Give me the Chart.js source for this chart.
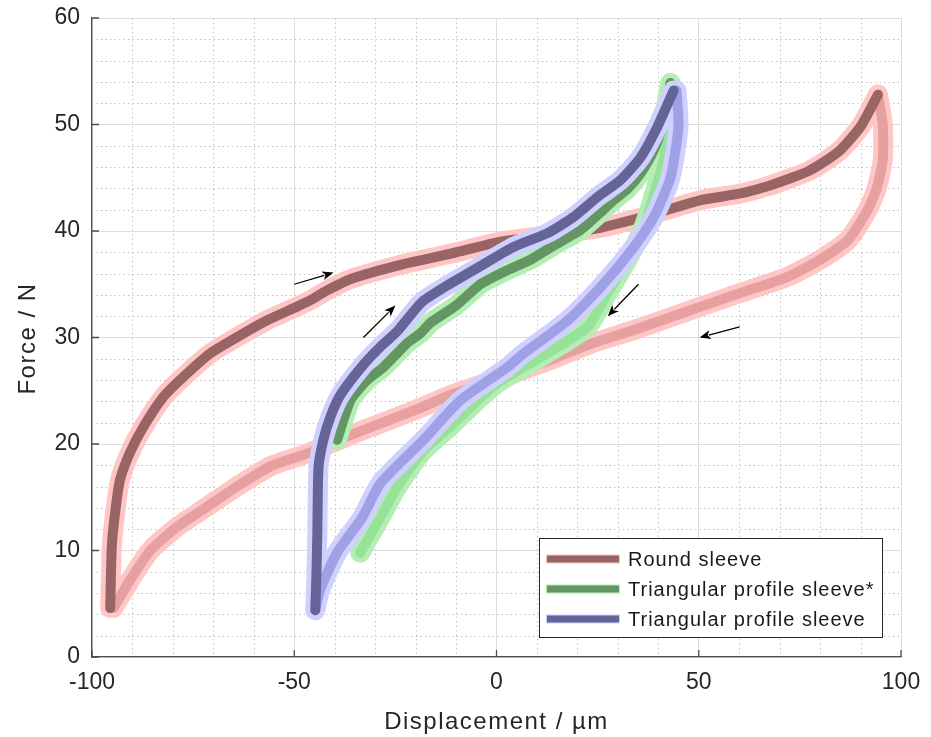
<!DOCTYPE html>
<html>
<head>
<meta charset="utf-8">
<title>Force vs displacement</title>
<script src="https://cdn.jsdelivr.net/npm/chart.js@4.4.1/dist/chart.umd.min.js"></script>
<style>
  html, body { margin: 0; background: #fff; }
</style>
</head>
<body>
<canvas id="hysteresisChart" width="931" height="737"></canvas>
<script>
// measured loops: [displacement µm, force N]
const seriesNames = ['Round sleeve', 'Triangular profile sleeve*', 'Triangular profile sleeve'];
const xTitle = 'Displacement / µm';
const yTitle = 'Force / N';

const roundLoading = [
  [-95.5, 4.6], [-95.1, 10.4], [-94.3, 13.5], [-93.1, 16.6], [-90.6, 19.2], [-87.3, 21.6],
  [-82.4, 24.4], [-77.4, 26.3], [-70.8, 28.5], [-63.4, 30.2], [-56.8, 31.6], [-49.3, 32.9],
  [-46, 33.5], [-42, 34.4], [-36, 35.5], [-24, 36.8], [-11, 37.9],
  [1, 39], [13, 39.6], [25.7, 40.3], [38, 41.5], [50.5, 42.9], [60, 43.5],
  [67, 44.2], [73, 45], [77, 45.6], [81, 46.5], [85, 47.6], [90, 49.8], [94.3, 52.8]
];
const roundUnloading = [
  [94.3, 52.8], [95.5, 50], [95.5, 46.7], [94, 44], [91.8, 42], [87, 39.2],
  [80, 37.3], [72, 35.7], [60.4, 34.2], [46, 32.3], [34, 30.7], [24, 29.5],
  [13.4, 27.9], [1, 26.2], [-11.4, 24.6], [-20, 23.2], [-35, 21], [-46.9, 19.1],
  [-55.9, 17.9], [-64.2, 16], [-71.6, 14.1], [-79, 12.2], [-85.6, 10], [-90.6, 7.2],
  [-94.7, 4.6]
];
const triStarLoading = [
  [-39.4, 20.4], [-36.1, 24.1], [-32, 26], [-28, 27.2], [-22, 29.5], [-18.8, 30.4],
  [-16.3, 31.4], [-10, 33], [-4, 35], [2, 36.2], [8.4, 37.3], [14, 38.6],
  [20.8, 40.1], [25, 41.5], [29, 42.9], [32.5, 44], [35.6, 45.4], [38.9, 47.6],
  [41, 50], [43, 53.9]
];
const triStarUnloading = [
  [43, 53.9], [42.5, 50], [41.3, 46.7], [39, 43.5], [36.4, 40.4], [32.4, 37.3],
  [27.5, 34.2], [22.5, 31], [12, 28.4], [0.2, 25.7], [-4.7, 24.1], [-11, 21.8],
  [-18, 19.4], [-24.5, 16], [-28.7, 13.1], [-33.7, 9.8]
];
const triLoading = [
  [-44.8, 4.4], [-44.5, 8], [-44.3, 11.6], [-44, 17.8], [-42.8, 20.4], [-41, 22.6],
  [-38.6, 24.6], [-33, 27.4], [-28.5, 29.2], [-24.5, 30.6], [-18.5, 33.3], [-12.1, 34.9],
  [-4, 36.7], [4.2, 38.5], [12.6, 39.8], [19, 41.3], [25, 43.2], [30.7, 44.8],
  [35.6, 46.9], [39.8, 49.8], [43.8, 53.2]
];
const triUnloading = [
  [44.5, 53.2], [45, 49.8], [43, 45], [38.9, 41.3], [34, 38.5], [25.7, 34.7],
  [17.6, 31.6], [6.7, 28.5], [2.7, 27.2], [-8.9, 24.1], [-18, 20.4], [-28.7, 16.3],
  [-33.2, 13.1], [-39.4, 9.8], [-43.6, 6.3], [-44.8, 4.4]
];

// direction arrows, tail -> head in data units
const arrows = [
  [[-50, 35.0], [-40.3, 36.1]],
  [[-32.9, 30.0], [-25, 33.0]],
  [[35.1, 35.0], [27.5, 32.0]],
  [[60.1, 31.0], [50.2, 30.0]]
];

const xTicks = { min: -100, max: 100, step: 50, minor: 10 };
const yTicks = { min: 0, max: 60, step: 10, minor: 2 };

const palette = {
  round:   { halo: 'rgb(255,198,198)', load: 'rgb(152,100,100)', unload: 'rgb(230,160,160)' },
  triStar: { halo: 'rgb(180,238,180)', load: 'rgb(100,150,100)', unload: 'rgb(150,226,150)' },
  tri:     { halo: 'rgb(208,208,255)', load: 'rgb(100,100,150)', unload: 'rgb(160,160,230)' }
};

const FONT = '"Liberation Sans", Arial, sans-serif';

const toXY = pts => pts.map(p => ({ x: p[0], y: p[1] }));

function line(pts, color, width, order) {
  return {
    data: toXY(pts),
    borderColor: color,
    borderWidth: width,
    pointRadius: 0,
    tension: 0.2,
    borderCapStyle: 'round',
    borderJoinStyle: 'round',
    order: order
  };
}

// higher order is painted first
const datasets = [];
let ord = 100;
[
  [palette.round, roundLoading, roundUnloading],
  [palette.triStar, triStarLoading, triStarUnloading],
  [palette.tri, triLoading, triUnloading]
].forEach(([c, load, unload]) => {
  datasets.push(line(load, c.halo, 20, ord--));
  datasets.push(line(unload, c.halo, 20, ord--));
  datasets.push(line(unload, c.unload, 10, ord--));
  datasets.push(line(load, c.load, 10, ord--));
});

const minorGrid = {
  id: 'minorGrid',
  beforeDatasetsDraw(chart) {
    const { ctx, chartArea: a, scales: { x, y } } = chart;
    ctx.save();
    ctx.strokeStyle = '#c4c4c4';
    ctx.lineWidth = 1;
    ctx.setLineDash([1.5, 3]);
    ctx.beginPath();
    for (let v = xTicks.min + xTicks.minor; v < xTicks.max; v += xTicks.minor) {
      if (v % xTicks.step === 0) continue;
      const px = Math.round(x.getPixelForValue(v)) + 0.5;
      ctx.moveTo(px, a.top); ctx.lineTo(px, a.bottom);
    }
    for (let v = yTicks.min + yTicks.minor; v < yTicks.max; v += yTicks.minor) {
      if (v % yTicks.step === 0) continue;
      const py = Math.round(y.getPixelForValue(v)) + 0.5;
      ctx.moveTo(a.left, py); ctx.lineTo(a.right, py);
    }
    ctx.stroke();
    ctx.restore();
  },
  afterDraw(chart) {
    // short inward tick marks on both axes
    const { ctx, chartArea: a, scales: { x, y } } = chart;
    ctx.save();
    ctx.strokeStyle = '#4d4d4d';
    ctx.lineWidth = 1.3;
    ctx.beginPath();
    for (let v = xTicks.min; v <= xTicks.max; v += xTicks.step) {
      const px = x.getPixelForValue(v);
      ctx.moveTo(px, a.bottom); ctx.lineTo(px, a.bottom - 7);
    }
    for (let v = yTicks.min; v <= yTicks.max; v += yTicks.step) {
      const py = y.getPixelForValue(v);
      ctx.moveTo(a.left, py); ctx.lineTo(a.left + 7, py);
    }
    ctx.stroke();
    ctx.restore();
  }
};

// axis titles, drawn by hand to get the wider letter spacing
const axisTitles = {
  id: 'axisTitles',
  afterDraw(chart) {
    const { ctx, chartArea: a } = chart;
    ctx.save();
    ctx.fillStyle = '#262626';
    ctx.font = '24px ' + FONT;
    ctx.letterSpacing = '1.5px';
    ctx.textAlign = 'center';
    ctx.textBaseline = 'alphabetic';
    ctx.fillText(xTitle, (a.left + a.right) / 2, 729);
    ctx.translate(35, (a.top + a.bottom) / 2 + 1);
    ctx.rotate(-Math.PI / 2);
    ctx.fillText(yTitle, 0, 0);
    ctx.restore();
  }
};

const arrowMarks = {
  id: 'arrowMarks',
  afterDatasetsDraw(chart) {
    const { ctx, scales: { x, y } } = chart;
    ctx.save();
    ctx.strokeStyle = '#000';
    ctx.fillStyle = '#000';
    ctx.lineWidth = 1.3;
    arrows.forEach(([from, to]) => {
      const x0 = x.getPixelForValue(from[0]), y0 = y.getPixelForValue(from[1]);
      const x1 = x.getPixelForValue(to[0]), y1 = y.getPixelForValue(to[1]);
      const ang = Math.atan2(y1 - y0, x1 - x0);
      const len = 12, spread = 0.38;
      ctx.beginPath();
      ctx.moveTo(x0, y0);
      ctx.lineTo(x1 - Math.cos(ang) * len * 0.8, y1 - Math.sin(ang) * len * 0.8);
      ctx.stroke();
      ctx.beginPath();
      ctx.moveTo(x1, y1);
      ctx.lineTo(x1 - len * Math.cos(ang - spread), y1 - len * Math.sin(ang - spread));
      ctx.lineTo(x1 - len * 0.7 * Math.cos(ang), y1 - len * 0.7 * Math.sin(ang));
      ctx.lineTo(x1 - len * Math.cos(ang + spread), y1 - len * Math.sin(ang + spread));
      ctx.closePath();
      ctx.fill();
    });
    ctx.restore();
  }
};

const legendBox = {
  id: 'legendBox',
  afterDatasetsDraw(chart) {
    const { ctx, chartArea: a } = chart;
    const w = 343, h = 99;
    const left = a.right - 19 - w, top = a.bottom - 20 - h;
    const colors = [palette.round, palette.triStar, palette.tri];
    ctx.save();
    ctx.fillStyle = '#fff';
    ctx.fillRect(left, top, w, h);
    ctx.strokeStyle = '#262626';
    ctx.lineWidth = 1;
    ctx.strokeRect(left + 0.5, top + 0.5, w, h);
    ctx.font = '20px ' + FONT;
    ctx.letterSpacing = '1px';
    ctx.textBaseline = 'middle';
    seriesNames.forEach((name, i) => {
      const cy = top + 21 + i * 30;
      ctx.lineCap = 'butt';
      ctx.strokeStyle = colors[i].halo;
      ctx.lineWidth = 9;
      ctx.beginPath(); ctx.moveTo(left + 7, cy); ctx.lineTo(left + 81, cy); ctx.stroke();
      ctx.strokeStyle = colors[i].load;
      ctx.lineWidth = 7;
      ctx.beginPath(); ctx.moveTo(left + 8, cy); ctx.lineTo(left + 80, cy); ctx.stroke();
      ctx.fillStyle = '#1a1a1a';
      ctx.fillText(name, left + 89, cy + 1);
    });
    ctx.restore();
  }
};

const tickFont = { family: FONT, size: 23 };

new Chart(document.getElementById('hysteresisChart'), {
  type: 'line',
  data: { datasets: datasets },
  plugins: [minorGrid, arrowMarks, legendBox, axisTitles],
  options: {
    responsive: false,
    animation: false,
    layout: { padding: { top: 18, right: 30, left: 0, bottom: 0 } },
    plugins: { legend: { display: false }, tooltip: { enabled: false } },
    scales: {
      x: {
        type: 'linear',
        min: xTicks.min, max: xTicks.max,
        ticks: { stepSize: xTicks.step, color: '#262626', font: tickFont, padding: 12, maxRotation: 0 },
        grid: { color: '#dcdcdc', lineWidth: 1, drawTicks: false },
        border: { color: '#4d4d4d', width: 1.3 },
        afterFit(scale) {
          scale.height = 80;
          scale.paddingLeft = 0; scale.paddingRight = 0;
        }
      },
      y: {
        type: 'linear',
        min: yTicks.min, max: yTicks.max,
        ticks: { stepSize: yTicks.step, color: '#262626', font: tickFont, padding: 12 },
        grid: { color: '#dcdcdc', lineWidth: 1, drawTicks: false },
        border: { color: '#4d4d4d', width: 1.3 },
        afterFit(scale) {
          scale.width = 92;
          scale.paddingTop = 0; scale.paddingBottom = 0;
        }
      }
    }
  }
});
</script>
</body>
</html>
